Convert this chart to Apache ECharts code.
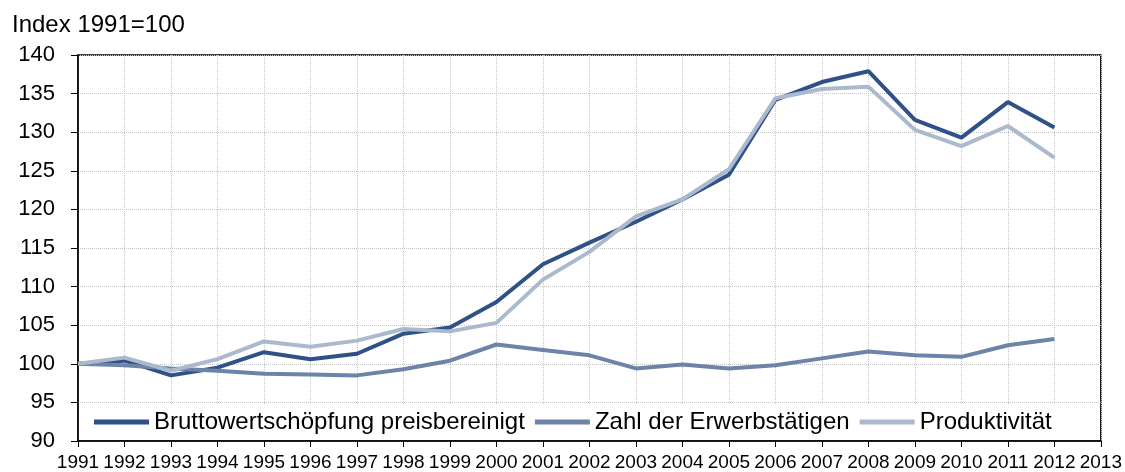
<!DOCTYPE html>
<html>
<head>
<meta charset="utf-8">
<script src="https://cdn.jsdelivr.net/npm/echarts@6/dist/echarts.min.js"></script>
<style>
  html, body { margin: 0; padding: 0; background: #fff; }
  #main { width: 1125px; height: 472px; }
</style>
</head>
<body>
<div id="main"></div>
<script>
const years = ['1991','1992','1993','1994','1995','1996','1997','1998','1999','2000','2001','2002',
  '2003','2004','2005','2006','2007','2008','2009','2010','2011','2012','2013'];

const brutto = [100, 100.4, 98.5, 99.5, 101.5, 100.6, 101.3, 103.9, 104.7, 108.0, 112.9, 115.7,
  118.4, 121.3, 124.5, 134.2, 136.5, 137.9, 131.6, 129.3, 133.9, 130.6];
const erwerb = [100, 99.8, 99.4, 99.1, 98.7, 98.6, 98.5, 99.3, 100.4, 102.5, 101.8, 101.1,
  99.4, 99.9, 99.4, 99.8, 100.7, 101.6, 101.1, 100.9, 102.4, 103.2];
const produkt = [100, 100.8, 99.1, 100.6, 102.9, 102.2, 103.0, 104.5, 104.2, 105.3, 110.9, 114.5,
  119.1, 121.3, 125.2, 134.4, 135.6, 135.9, 130.3, 128.2, 130.8, 126.7];

const names = ['Bruttowertschöpfung preisbereinigt', 'Zahl der Erwerbstätigen', 'Produktivität'];
const colors = ['#2f5187', '#6d83a8', '#abb9cc'];

const font = 'Liberation Sans, Arial, sans-serif';
const myChart = echarts.init(document.getElementById('main'));

// Linien-Serien
const mkSeries = function (name, data, color) {
  return {
    name: name,
    type: 'line',
    data: data,
    symbol: 'none',
    lineStyle: { width: 4, color: color },
    itemStyle: { color: color },
    z: 3
  };
};

const option = {
  animation: false,
  color: colors,
  title: {
    text: 'Index 1991=100',
    left: 12,
    top: 13,
    padding: 0,
    textStyle: { fontFamily: font, fontSize: 24, fontWeight: 'normal', color: '#000' }
  },
  grid: {
    left: 78, right: 22, top: 55, bottom: 31,
    show: true, borderColor: '#000', borderWidth: 1.5
  },
  legend: {
    data: names,
    left: 84,
    top: 404,
    icon: 'rect',
    itemWidth: 55,
    itemHeight: 5,
    itemGap: 10,
    padding: [6, 10, 6, 10],
    backgroundColor: '#fff',
    z: 10,
    textStyle: { fontFamily: font, fontSize: 24, color: '#000' }
  },
  xAxis: {
    type: 'category',
    data: years,
    boundaryGap: false,
    axisLine: { lineStyle: { color: '#000', width: 1.5 } },
    axisTick: { show: true, length: 6, interval: 0, lineStyle: { color: '#000' } },
    axisLabel: { interval: 0, fontFamily: font, fontSize: 19, color: '#000', margin: 12 },
    splitLine: { show: true, interval: 0, lineStyle: { type: 'dotted', color: '#c4c4c4' } }
  },
  yAxis: {
    type: 'value',
    min: 90,
    max: 140,
    interval: 5,
    axisLine: { show: true, lineStyle: { color: '#000', width: 1.5 } },
    axisTick: { show: true, length: 7, lineStyle: { color: '#000' } },
    axisLabel: { fontFamily: font, fontSize: 22, color: '#000', margin: 23 },
    splitLine: { show: true, lineStyle: { type: 'dotted', color: '#c4c4c4' } }
  },
  series: [
    mkSeries(names[0], brutto, colors[0]),
    mkSeries(names[1], erwerb, colors[1]),
    mkSeries(names[2], produkt, colors[2])
  ]
};

myChart.setOption(option);
</script>
</body>
</html>
